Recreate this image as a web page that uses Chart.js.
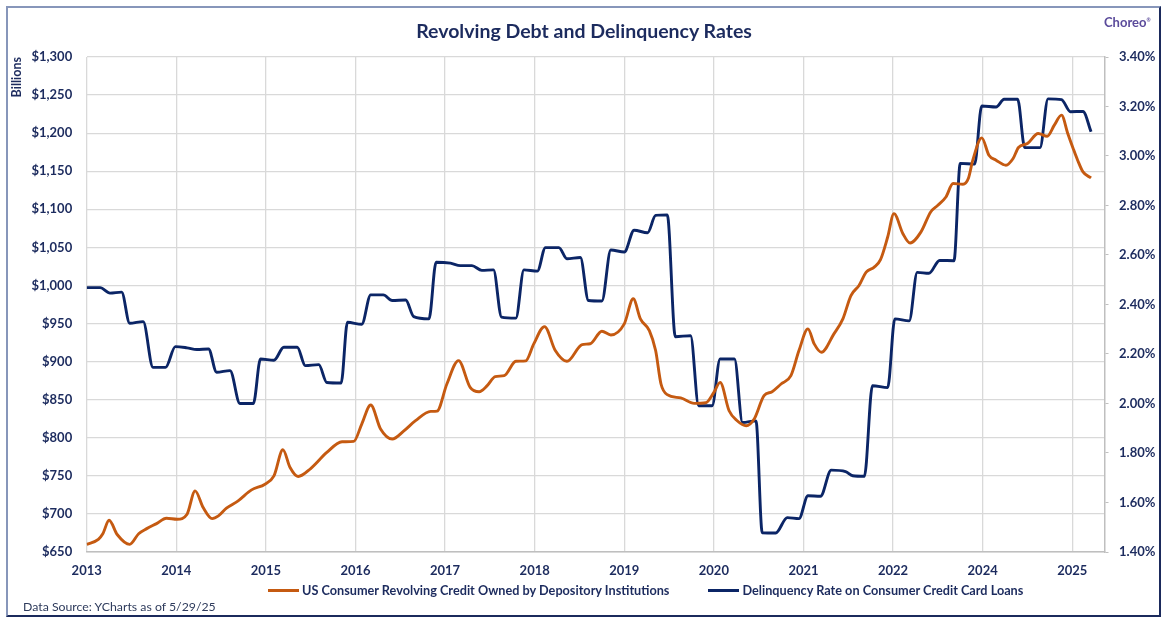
<!DOCTYPE html>
<html lang="en">
<head>
<meta charset="utf-8">
<title>Revolving Debt and Delinquency Rates</title>
<script src="https://cdn.jsdelivr.net/npm/chart.js@4.4.1/dist/chart.umd.min.js"></script>
<style>
  body { margin: 0; background: #fff; font-family: Lato, "Open Sans", sans-serif; }
  #painel { position: relative; width: 1168px; height: 620px; overflow: hidden; background: #fff; }
  #moldura {
    position: absolute; left: 6px; top: 6px; width: 1151px; height: 607px;
    border: 2px solid; border-color: #8796ba #1b2a5c #1b2a5c #8796ba;
  }
  #grafico { position: absolute; left: 0; top: 0; }
  #titulo {
    position: absolute; left: 0; top: 19px; width: 1168px; text-align: center;
    font-weight: 700; font-size: 19.5px; color: #1c2b5e;
  }
  #marca { position: absolute; left: 1104px; top: 14px; font-weight: 700; font-size: 13px; color: #5b4b9b; }
  #marca sup { font-size: 5px; }
  #legenda {
    position: absolute; left: 268px; top: 582px; height: 16px;
    display: flex; align-items: center; font-weight: 700; font-size: 12.7px; color: #1c2b5e;
  }
  #legenda .item { display: flex; align-items: center; margin-right: 39px; }
  #legenda .amostra { width: 31px; height: 3px; margin-right: 3px; }
  #fonte { position: absolute; left: 23px; top: 599px; font-size: 12.3px; color: #2e3b5c; }
</style>
</head>
<body>
<div id="painel">
  <div id="moldura"></div>
  <canvas id="grafico" width="1168" height="620"></canvas>
  <div id="titulo">Revolving Debt and Delinquency Rates</div>
  <div id="marca">Choreo<sup>&reg;</sup></div>
  <div id="legenda"></div>
  <div id="fonte">Data Source: YCharts as of 5/29/25</div>
</div>

<script>
// ======================================================
// 1. DADOS
// ======================================================

// posição no eixo em anos decimais (o eixo original pula o rótulo 2023)
const xTickYears = [2013, 2014, 2015, 2016, 2017, 2018, 2019, 2020, 2021, 2022, 2023, 2024];
const xTickLabels = ['2013', '2014', '2015', '2016', '2017', '2018', '2019', '2020', '2021', '2022', '2024', '2025'];

// Crédito rotativo (US$ bilhões)
const revX = [
  2013.00, 2013.13, 2013.18, 2013.25, 2013.34, 2013.48, 2013.58, 2013.67, 2013.78, 2013.89,
  2014.01, 2014.12, 2014.21, 2014.30, 2014.40, 2014.47, 2014.56, 2014.69, 2014.84, 2014.99,
  2015.09, 2015.19, 2015.27, 2015.36, 2015.50, 2015.68, 2015.85, 2015.98,
  2016.07, 2016.17, 2016.28, 2016.41, 2016.54, 2016.67, 2016.84, 2016.91,
  2017.02, 2017.15, 2017.28, 2017.38, 2017.47, 2017.56, 2017.66, 2017.79, 2017.90, 2017.99,
  2018.11, 2018.23, 2018.36, 2018.53, 2018.62, 2018.75, 2018.85,
  2019.00, 2019.10, 2019.18, 2019.28, 2019.35, 2019.41, 2019.48, 2019.63, 2019.78, 2019.91,
  2020.00, 2020.07, 2020.17, 2020.26, 2020.36, 2020.45, 2020.56, 2020.65, 2020.75, 2020.86, 2020.95,
  2021.05, 2021.12, 2021.20, 2021.34, 2021.44, 2021.53, 2021.62, 2021.70, 2021.79, 2021.86, 2021.94,
  2022.01, 2022.11, 2022.19, 2022.31, 2022.42, 2022.50, 2022.59, 2022.67, 2022.78, 2022.84, 2022.89, 2022.99,
  2023.07, 2023.15, 2023.26, 2023.34, 2023.40, 2023.50, 2023.62, 2023.72, 2023.80, 2023.88, 2023.95,
  2024.01, 2024.06, 2024.12, 2024.21
];
const revY = [
  660, 666.7, 674, 691.7, 673, 660, 674, 680.7, 687.3, 694.3,
  693, 699.6, 730.3, 708.3, 693.8, 697.4, 707.5, 717.1, 731.6, 739,
  750, 784.2, 760.9, 749.1, 759.6, 780.7, 794.7, 795.2,
  818, 843, 811.5, 798.3, 809, 822.4, 834.6, 835,
  870.6, 901.3, 866.2, 860.5, 868.4, 880.3, 881.6, 900.4, 901, 923.3,
  946, 914.5, 900.4, 922.4, 923.5, 939.9, 935,
  949.6, 982.5, 956.2, 940.8, 914.5, 870.6, 856.6, 852.3, 845.2, 846,
  859.6, 872.8, 835.5, 822.4, 815.8, 824.6, 855.3, 860.5, 870.6, 881.6, 914.5,
  943, 923.3, 912.2, 936.4, 956.2, 986.8, 1000, 1017.5, 1024.1, 1034, 1063.6,
  1094.3, 1068, 1055.7, 1070, 1096.5, 1105.3, 1116.2, 1133.8, 1132.9, 1140.4, 1164.5, 1193.8,
  1171, 1164.5, 1157.9, 1166.7, 1181.2, 1186.4, 1199.6, 1196, 1210.5, 1223.7, 1199.6,
  1179.9, 1164.5, 1149.1, 1141.2
];

// Taxa de inadimplência no cartão (%)
const delX = [
  2013.00, 2013.15, 2013.26, 2013.39, 2013.48, 2013.63, 2013.74, 2013.88, 2013.99,
  2014.12, 2014.23, 2014.36, 2014.45, 2014.60, 2014.71, 2014.86, 2014.94,
  2015.09, 2015.20, 2015.35, 2015.44, 2015.59, 2015.68, 2015.84, 2015.91,
  2016.07, 2016.17, 2016.31, 2016.41, 2016.56, 2016.65, 2016.82, 2016.90,
  2017.06, 2017.17, 2017.30, 2017.41, 2017.54, 2017.63, 2017.79, 2017.88,
  2018.03, 2018.12, 2018.27, 2018.36, 2018.51, 2018.60, 2018.75, 2018.85,
  2019.00, 2019.11, 2019.26, 2019.35, 2019.48, 2019.57, 2019.74, 2019.83, 2019.98,
  2020.07, 2020.23, 2020.32, 2020.47, 2020.54, 2020.69, 2020.82, 2020.95,
  2021.05, 2021.19, 2021.31, 2021.47, 2021.55, 2021.68, 2021.77, 2021.94,
  2022.02, 2022.18, 2022.27, 2022.40, 2022.52, 2022.68, 2022.75, 2022.91, 2022.99,
  2023.15, 2023.24, 2023.39, 2023.47, 2023.64, 2023.73, 2023.88, 2023.98,
  2024.12, 2024.21
];
const delY = [
  2.468, 2.468, 2.446, 2.450, 2.324, 2.331, 2.146, 2.146, 2.230,
  2.225, 2.218, 2.220, 2.126, 2.133, 2.000, 2.000, 2.180,
  2.175, 2.227, 2.227, 2.153, 2.157, 2.085, 2.083, 2.328,
  2.320, 2.439, 2.439, 2.416, 2.418, 2.351, 2.342, 2.571,
  2.567, 2.557, 2.557, 2.538, 2.540, 2.349, 2.345, 2.540,
  2.535, 2.630, 2.630, 2.585, 2.590, 2.416, 2.414, 2.620,
  2.612, 2.700, 2.690, 2.760, 2.762, 2.270, 2.274, 1.991, 1.991,
  2.180, 2.180, 1.923, 1.930, 1.478, 1.477, 1.539, 1.535,
  1.627, 1.625, 1.731, 1.725, 1.708, 1.706, 2.072, 2.064,
  2.342, 2.334, 2.530, 2.526, 2.578, 2.577, 2.970, 2.967, 3.202,
  3.198, 3.229, 3.230, 3.034, 3.034, 3.231, 3.228, 3.179,
  3.180, 3.098
];

const corLaranja = '#c55a11';
const corAzul = '#0b2566';
const corTexto = '#1c2b5e';
const corGrade = '#d9d9d9';
const corEixo = '#bfbfbf';

// ======================================================
// 2. GRÁFICO
// ======================================================

Chart.defaults.font.family = 'Lato, "Open Sans", sans-serif';

const fonteTicks = { size: 13, weight: 'bold' };

const grafico = new Chart(document.getElementById('grafico'), {
  type: 'line',
  data: {
    datasets: [
      {
        label: 'US Consumer Revolving Credit Owned by Depository Institutions',
        data: revX.map((x, i) => ({ x: x, y: revY[i] })),
        borderColor: corLaranja,
        backgroundColor: corLaranja,
        borderWidth: 2.9,
        pointRadius: 0,
        cubicInterpolationMode: 'monotone',
        yAxisID: 'y'
      },
      {
        label: 'Delinquency Rate on Consumer Credit Card Loans',
        data: delX.map((x, i) => ({ x: x, y: delY[i] })),
        borderColor: corAzul,
        backgroundColor: corAzul,
        borderWidth: 2.9,
        pointRadius: 0,
        cubicInterpolationMode: 'monotone',
        yAxisID: 'y1'
      }
    ]
  },
  options: {
    responsive: false,
    animation: false,
    layout: { padding: { top: 57, left: 8, right: 10, bottom: 38 } },
    plugins: {
      legend: { display: false },
      tooltip: { enabled: false }
    },
    scales: {
      x: {
        type: 'linear',
        min: 2013,
        max: 2024.36,
        afterBuildTicks: s => { s.ticks = xTickYears.map(v => ({ value: v })); },
        afterFit: s => { s.height = 30; },
        grid: { color: corGrade, lineWidth: 1.3, drawTicks: false },
        border: { color: corEixo, width: 1.5 },
        ticks: {
          callback: (v, i) => xTickLabels[i],
          autoSkip: false,
          maxRotation: 0,
          padding: 11,
          color: corTexto,
          font: fonteTicks
        }
      },
      y: {
        position: 'left',
        min: 650,
        max: 1300,
        afterFit: s => { s.width = 78.7; },
        grid: { color: corGrade, lineWidth: 1.3, drawTicks: false },
        border: { display: false },
        ticks: {
          stepSize: 50,
          padding: 14.5,
          color: corTexto,
          font: fonteTicks,
          callback: v => '$' + v.toLocaleString('en-US')
        },
        title: {
          display: true,
          text: 'Billions',
          align: 'end',
          color: corTexto,
          padding: { top: 1.5, bottom: 0 },
          font: { size: 12.5, weight: 'bold' }
        }
      },
      y1: {
        position: 'right',
        min: 1.4,
        max: 3.4,
        afterFit: s => { s.width = 53.5; },
        grid: { drawOnChartArea: false, color: corEixo, tickLength: 4 },
        border: { color: corEixo, width: 1.5 },
        ticks: {
          stepSize: 0.2,
          padding: 10.5,
          color: corTexto,
          font: fonteTicks,
          callback: v => v.toFixed(2) + '%'
        }
      }
    }
  }
});

// ======================================================
// 3. LEGENDA (montada a partir dos datasets)
// ======================================================

const legenda = document.getElementById('legenda');
grafico.data.datasets.forEach(ds => {
  legenda.innerHTML += `
    <div class="item">
      <span class="amostra" style="background:${ds.borderColor}"></span>
      <span>${ds.label}</span>
    </div>`;
});
</script>
</body>
</html>
